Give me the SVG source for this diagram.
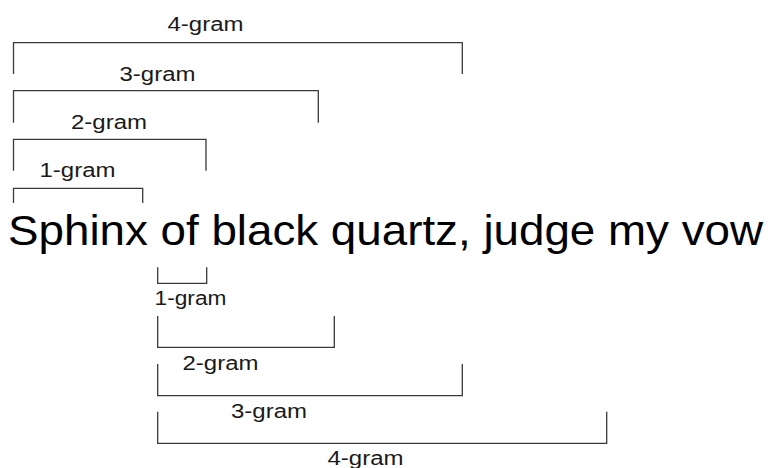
<svg xmlns="http://www.w3.org/2000/svg" width="774" height="468" viewBox="0 0 774 468">
  <style>
    .bracket { fill: none; stroke: #3a3a3a; stroke-width: 1.3; }
    .label { font-family: "Liberation Sans", Arial, sans-serif; font-size: 19.5px; fill: #1a1a1a; }
    .sentence { font-family: "Liberation Sans", Arial, sans-serif; font-size: 43px; fill: #000; }
  </style>
  <rect width="774" height="468" fill="#fff"/>

  <!-- sentence -->
  <g id="sentence">
    <text class="sentence" x="8" y="245" textLength="755" lengthAdjust="spacingAndGlyphs">Sphinx of black quartz, judge my vow</text>
  </g>

  <!-- n-grams measured from the start of the sentence -->
  <g id="left-4gram">
    <path class="bracket" d="M13.5,74 V42.7 H462.3 V74"/>
    <text class="label" x="167.5" y="31" textLength="76" lengthAdjust="spacingAndGlyphs">4-gram</text>
  </g>
  <g id="left-3gram">
    <path class="bracket" d="M13.5,122.7 V90.7 H318.3 V122.7"/>
    <text class="label" x="119.5" y="81" textLength="76" lengthAdjust="spacingAndGlyphs">3-gram</text>
  </g>
  <g id="left-2gram">
    <path class="bracket" d="M13.5,170.7 V139.3 H206 V170.7"/>
    <text class="label" x="71" y="129" textLength="76" lengthAdjust="spacingAndGlyphs">2-gram</text>
  </g>
  <g id="left-1gram">
    <path class="bracket" d="M13.5,203 V188.3 H142.7 V203"/>
    <text class="label" x="39.5" y="177" textLength="76" lengthAdjust="spacingAndGlyphs">1-gram</text>
  </g>

  <!-- n-grams measured from the second word -->
  <g id="right-1gram">
    <path class="bracket" d="M157.7,267.3 V283.3 H206.7 V267.3"/>
    <text class="label" x="154.5" y="305" textLength="72" lengthAdjust="spacingAndGlyphs">1-gram</text>
  </g>
  <g id="right-2gram">
    <path class="bracket" d="M157.7,316 V347.3 H334.3 V316"/>
    <text class="label" x="182.5" y="369.5" textLength="76" lengthAdjust="spacingAndGlyphs">2-gram</text>
  </g>
  <g id="right-3gram">
    <path class="bracket" d="M157.7,364 V395.7 H462.3 V364"/>
    <text class="label" x="231" y="417.5" textLength="76" lengthAdjust="spacingAndGlyphs">3-gram</text>
  </g>
  <g id="right-4gram">
    <path class="bracket" d="M157.7,411.7 V443.3 H606.7 V411.7"/>
    <text class="label" x="327.5" y="465" textLength="76" lengthAdjust="spacingAndGlyphs">4-gram</text>
  </g>
</svg>
